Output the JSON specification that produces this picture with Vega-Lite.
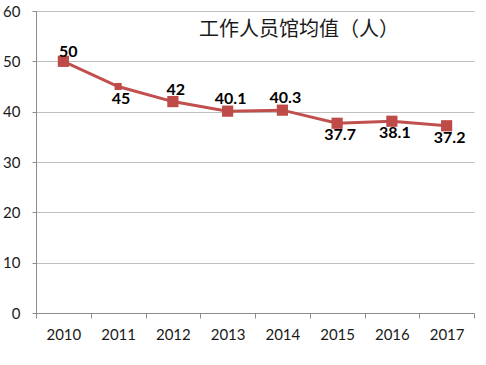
{
  "$schema": "https://vega.github.io/schema/vega-lite/v6.json",
  "width": 438,
  "height": 302,
  "autosize": {"type": "none"},
  "padding": {"left": 36, "top": 11, "right": 12, "bottom": 52},
  "background": "white",
  "config": {"view": {"stroke": null}, "font": "Lato"},
  "title": {
    "text": "工作人员馆均值（人）",
    "font": "Noto Sans CJK SC",
    "fontSize": 20,
    "fontWeight": "normal",
    "color": "#1a1a1a",
    "anchor": "middle",
    "frame": "group",
    "baseline": "bottom",
    "dx": 44,
    "dy": 30,
    "offset": -26
  },
  "data": {
    "values": [
      {"year": "2010", "value": 50},
      {"year": "2011", "value": 45},
      {"year": "2012", "value": 42},
      {"year": "2013", "value": 40.1},
      {"year": "2014", "value": 40.3},
      {"year": "2015", "value": 37.7},
      {"year": "2016", "value": 38.1},
      {"year": "2017", "value": 37.2}
    ]
  },
  "encoding": {
    "x": {
      "field": "year",
      "type": "nominal",
      "sort": null,
      "scale": {"type": "band", "paddingInner": 0, "paddingOuter": 0},
      "axis": {
        "title": null,
        "labelAngle": 0,
        "tickBand": "extent",
        "tickSize": 5,
        "tickColor": "#8c8c8c",
        "domainColor": "#8c8c8c",
        "labelPadding": 9,
        "labelFont": "Lato",
        "labelFontSize": 15,
        "labelColor": "#1a1a1a",
        "grid": false
      }
    },
    "y": {
      "field": "value",
      "type": "quantitative",
      "scale": {"domain": [0, 60]},
      "axis": {
        "title": null,
        "values": [0, 10, 20, 30, 40, 50, 60],
        "grid": true,
        "gridColor": "#bfbfbf",
        "domainColor": "#8c8c8c",
        "tickColor": "#8c8c8c",
        "tickSize": 4,
        "labelPadding": 12,
        "labelFont": "Lato",
        "labelFontSize": 15,
        "labelColor": "#1a1a1a"
      }
    }
  },
  "layer": [
    {"mark": {"type": "line", "color": "#c0504d", "strokeWidth": 3}},
    {
      "transform": [{"filter": "datum.year != '2011'"}],
      "mark": {"type": "point", "shape": "square", "filled": true, "size": 125, "color": "#be4b48", "opacity": 1}
    },
    {
      "transform": [{"filter": "datum.year == '2011'"}],
      "mark": {"type": "point", "shape": "square", "filled": true, "size": 50, "color": "#be4b48", "opacity": 1}
    },
    {
      "transform": [{"filter": {"field": "year", "oneOf": ["2010"]}}],
      "mark": {"type": "text", "font": "Lato", "fontSize": 16, "fontWeight": "bold", "color": "#000000", "dx": 5, "dy": -9, "baseline": "middle"},
      "encoding": {"text": {"field": "value", "type": "quantitative"}}
    },
    {
      "transform": [{"filter": {"field": "year", "oneOf": ["2012", "2013", "2014"]}}],
      "mark": {"type": "text", "font": "Lato", "fontSize": 16, "fontWeight": "bold", "color": "#000000", "dx": 3, "dy": -12, "baseline": "middle"},
      "encoding": {"text": {"field": "value", "type": "quantitative"}}
    },
    {
      "transform": [{"filter": {"field": "year", "oneOf": ["2011", "2015", "2016", "2017"]}}],
      "mark": {"type": "text", "font": "Lato", "fontSize": 16, "fontWeight": "bold", "color": "#000000", "dx": 3, "dy": 12, "baseline": "middle"},
      "encoding": {"text": {"field": "value", "type": "quantitative"}}
    }
  ]
}
